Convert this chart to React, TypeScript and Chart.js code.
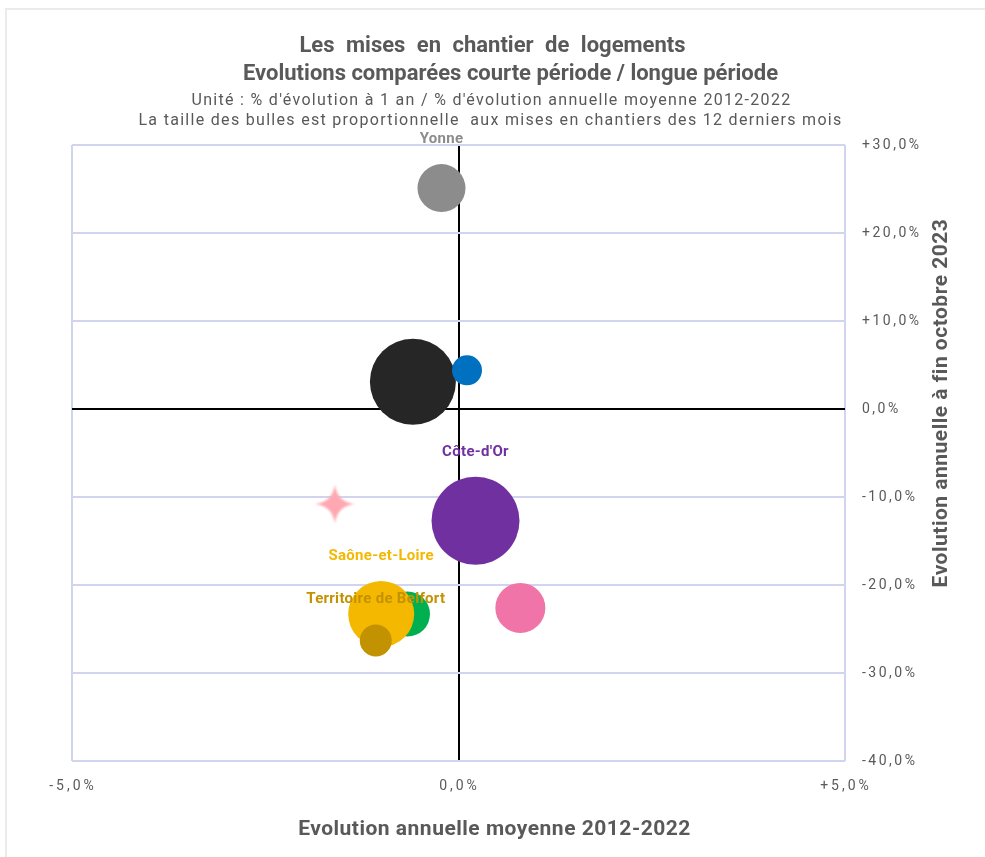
import React, { useEffect, useRef } from 'react';
import { Chart, registerables } from 'chart.js';

Chart.register(...registerables);

// Départements (only the labelled ones are named on the chart)
const departements = ['Yonne', '', '', "Côte-d'Or", '', '', 'Saône-et-Loire', 'Territoire de Belfort'];
// Evolution annuelle moyenne 2012-2022 (%)
const evolLongue = [-0.22, -0.59, 0.11, 0.22, 0.8, -0.66, -1.0, -1.07];
// Evolution annuelle à fin octobre 2023 (%)
const evolCourte = [25.1, 3.1, 4.4, -12.7, -22.6, -23.3, -23.3, -26.3];
// Bubble radius (proportional to mises en chantier des 12 derniers mois)
const tailleBulles = [24, 43, 15, 44, 25, 22.5, 33, 16];
const couleurs = ['#8c8c8c', '#262626', '#0070c0', '#7030a0', '#f174a9', '#00b050', '#f4b800', '#c39200'];

// Région (star marker)
const regionX = [-1.6];
const regionY = [-10.8];

const titleLines = ['Les mises en chantier de logements', 'Evolutions comparées courte période / longue période'];
const subtitleLines = [
  "Unité : % d'évolution à 1 an / % d'évolution annuelle moyenne 2012-2022",
  'La taille des bulles est proportionnelle  aux mises en chantiers des 12 derniers mois',
];
const xTitle = 'Evolution annuelle moyenne 2012-2022';
const yTitle = 'Evolution annuelle à fin octobre 2023';

const TEXT = '#595959';
const GRID = '#d0d4ef';

function fmtPct(v: number): string {
  const s = Math.abs(v).toFixed(1).replace('.', ',');
  if (v > 0) return '+' + s + '%';
  if (v < 0) return '-' + s + '%';
  return s + '%';
}

function makeStar(): HTMLCanvasElement {
  const c = document.createElement('canvas');
  const s = 44;
  c.width = s;
  c.height = s;
  const g = c.getContext('2d')!;
  const m = s / 2;
  g.filter = 'blur(1.2px)';
  g.fillStyle = '#ffa8b2';
  g.beginPath();
  g.moveTo(m, 2);
  g.quadraticCurveTo(m + 2, m - 2, s - 2, m);
  g.quadraticCurveTo(m + 2, m + 2, m, s - 2);
  g.quadraticCurveTo(m - 2, m + 2, 2, m);
  g.quadraticCurveTo(m - 2, m - 2, m, 2);
  g.closePath();
  g.fill();
  return c;
}

const textPlugin = {
  id: 'customText',
  afterDraw(chart: any) {
    const ctx: any = chart.ctx;
    const xs = chart.scales.x;
    const ys = chart.scales.y;
    const area = chart.chartArea;
    const cx = chart.width / 2;
    ctx.save();
    ctx.fillStyle = TEXT;
    ctx.textBaseline = 'middle';
    ctx.textAlign = 'center';
    // title
    ctx.font = 'bold 22px Roboto';
    ctx.letterSpacing = '0px';
    ctx.wordSpacing = '6px';
    ctx.fillText(titleLines[0], cx, 46);
    ctx.wordSpacing = '0px';
    ctx.fillText(titleLines[1], cx + 18, 74);
    // subtitle
    ctx.font = '16px Roboto';
    ctx.letterSpacing = '1.3px';
    ctx.fillText(subtitleLines[0], cx - 1, 101);
    ctx.fillText(subtitleLines[1], cx - 2, 121);
    // tick labels
    ctx.font = '14px Roboto';
    ctx.letterSpacing = '2.5px';
    ctx.textAlign = 'left';
    ys.ticks.forEach((t: any) => {
      ctx.fillText(fmtPct(t.value), area.right + 17, ys.getPixelForValue(t.value));
    });
    ctx.textAlign = 'center';
    ctx.letterSpacing = '3px';
    xs.ticks.forEach((t: any) => {
      ctx.fillText(fmtPct(t.value), xs.getPixelForValue(t.value) + 1, area.bottom + 25);
    });
    // axis titles
    ctx.font = 'bold 21px Roboto';
    ctx.letterSpacing = '0.5px';
    ctx.fillText(xTitle, cx + 2, area.bottom + 69);
    ctx.save();
    ctx.translate(area.right + 97, area.top + 258);
    ctx.rotate(-Math.PI / 2);
    ctx.fillText(yTitle, 0, 0);
    ctx.restore();
    // bubble labels
    const meta = chart.getDatasetMeta(0);
    ctx.font = 'bold 15px Roboto';
    ctx.letterSpacing = '0.3px';
    meta.data.forEach((el: any, i: number) => {
      const name = departements[i];
      if (!name) return;
      ctx.fillStyle = couleurs[i];
      ctx.fillText(name, el.x, el.y - tailleBulles[i] - 25);
    });
    ctx.restore();
  },
};

export default function App() {
  const ref = useRef<HTMLCanvasElement>(null);
  useEffect(() => {
    if (!ref.current) return;
    const star = makeStar();
    const chart = new Chart(ref.current, {
      type: 'bubble',
      data: {
        datasets: [
          {
            label: 'Départements',
            data: evolLongue.map((x, i) => ({ x, y: evolCourte[i], r: tailleBulles[i] })),
            backgroundColor: couleurs,
            borderWidth: 0,
            clip: false as any,
          },
          {
            type: 'scatter' as any,
            label: 'Région',
            data: regionX.map((x, i) => ({ x, y: regionY[i] })),
            pointStyle: star as any,
            pointRadius: 20,
          } as any,
        ],
      },
      options: {
        responsive: false,
        animation: false,
        layout: { padding: { left: 72, top: 145, right: 0, bottom: 0 } },
        plugins: {
          legend: { display: false },
          tooltip: { enabled: false },
          title: { display: false },
          subtitle: { display: false },
        },
        scales: {
          x: {
            type: 'linear',
            min: -5,
            max: 5,
            ticks: { stepSize: 5, display: false },
            grid: {
              drawTicks: false,
              color: (c: any) => (c.tick && c.tick.value === 0 ? '#000000' : GRID),
              lineWidth: 2,
            },
            border: { display: false },
            afterFit: (s: any) => {
              s.height = 96;
            },
          },
          y: {
            type: 'linear',
            position: 'right',
            min: -40,
            max: 30,
            ticks: { stepSize: 10, display: false },
            grid: {
              drawTicks: false,
              color: (c: any) => (c.tick && c.tick.value === 0 ? '#000000' : GRID),
              lineWidth: 2,
            },
            border: { display: false },
            afterFit: (s: any) => {
              s.width = 140;
            },
          },
        },
      },
      plugins: [textPlugin],
    });
    return () => chart.destroy();
  }, []);

  return (
    <div style={{ position: 'absolute', left: 0, top: 0, width: 985, height: 857, background: '#fff' }}>
      <div
        style={{
          position: 'absolute',
          left: 5,
          top: 8,
          width: 990,
          height: 860,
          borderTop: '2px solid #ebebeb',
          borderLeft: '2px solid #ebebeb',
          boxSizing: 'border-box',
        }}
      />
      <canvas ref={ref} width={985} height={857} style={{ position: 'absolute', left: 0, top: 0 }} />
    </div>
  );
}
